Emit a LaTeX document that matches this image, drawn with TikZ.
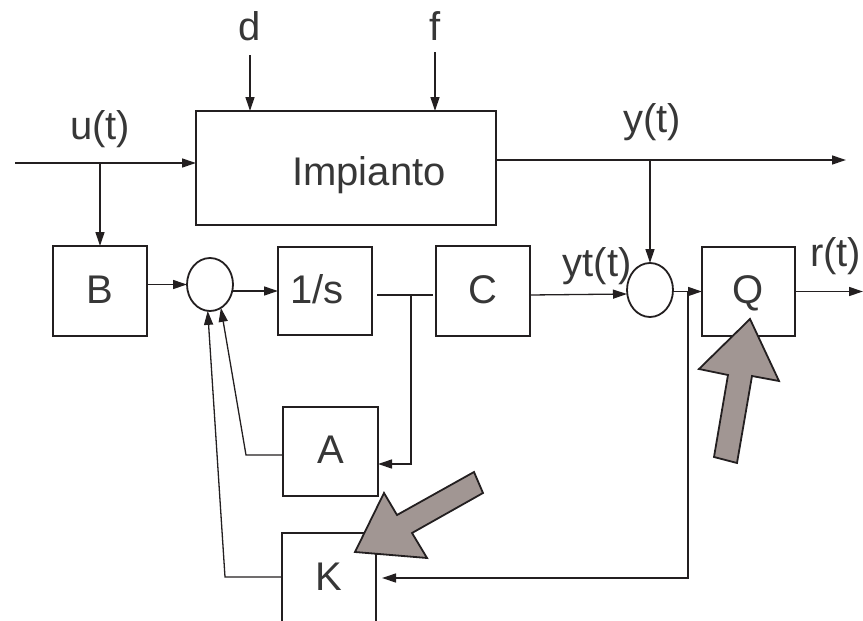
\documentclass[tikz,border=0pt]{standalone}
\usepackage{fontspec}
\setmainfont{Liberation Sans}
\usetikzlibrary{arrows.meta,shapes.geometric}
\definecolor{ln}{RGB}{35,31,32}
\definecolor{tx}{RGB}{55,55,55}
\definecolor{bigarrow}{RGB}{161,150,147}
\begin{document}
\begin{tikzpicture}[x=1pt,y=-1pt,
  every node/.style={font=\fontsize{40}{48}\selectfont, text=tx},
  blk/.style={draw=ln, line width=1.8pt, rectangle, inner sep=0pt, outer sep=0pt, text height=24pt, text depth=0pt},
  sumnode/.style={draw=ln, line width=1.8pt, ellipse, minimum width=46pt, minimum height=53pt, inner sep=0pt, outer sep=0pt},
  conn/.style={draw=ln, line width=1.3pt},
  arr/.style={conn, -{Triangle[length=14pt,width=9pt]}},
  lbl/.style={anchor=base, inner sep=0pt},
  fatarrow/.style={fill=bigarrow, draw=ln, line width=1.8pt, line join=miter}
]
\useasboundingbox (0,0) rectangle (863,621);
\clip (0,0) rectangle (863,621);

% blocks
\node[blk, minimum width=300pt, minimum height=114pt] (imp) at (346,168) {};
\node[lbl] (impt) at (369,185) {Impianto};
\node[blk, minimum width=94pt, minimum height=90pt] (B) at (100,291) {B};
\node[sumnode] (sum1) at (210,284.5) {};
\node[blk, minimum width=94pt, minimum height=88pt] (s1) at (325,291) {1/s\hspace*{16pt}};
\node[blk, minimum width=94pt, minimum height=90pt] (C) at (483,291) {C};
\node[sumnode, minimum height=54pt] (sum2) at (650,290) {};
\node[blk, minimum width=93pt, minimum height=89pt] (Q) at (748.5,291.5) {Q};
\node[blk, minimum width=95pt, minimum height=89pt] (A) at (330.5,451.5) {A};
\node[blk, minimum width=94pt, minimum height=90pt] (K) at (329,578) {K};

% labels
\node[lbl] (dl) at (250,40) {d};
\node[lbl] (fl) at (435,40) {f};
\node[lbl] (ul) at (100,139) {u(t)};
\node[lbl] (yl) at (652,132) {y(t)};
\node[lbl] (ytl) at (597,276) {yt(t)};
\node[lbl, anchor=base west] (rl) at (810,266) {r(t)};

% coordinates
\coordinate (uin) at (15,163);
\coordinate (ub) at (100,163);
\coordinate (din) at (250,55);
\coordinate (fin) at (435,52);
\coordinate (yout) at (846,160);
\coordinate (yb) at (650,160);
\coordinate (jn) at (411,295);
\coordinate (ka) at (225,577);
\coordinate (aa) at (246,455);
\coordinate (jq) at (688,291.5);
\coordinate (rout) at (863,291.5);

% connectors
\draw[arr] (uin) -- (uin -| imp.west);
\draw[arr] (ub) -- (B.north);
\draw[arr] (din) -- (din |- imp.north);
\draw[arr] (fin) -- (fin |- imp.north);
\draw[arr] (yout -| imp.east) -- (yout);
\draw[arr] (yb) -- (sum2.north);
\draw[arr] (B.east |- sum1.west) -- (sum1.west);
\draw[arr] (s1.west -| sum1.east) -- (s1.west);
\draw[conn, shorten <=5pt, shorten >=3pt] (s1.east |- jn) -- (C.west |- jn);
\draw[arr] (jn) |- ([yshift=-12.5pt]A.east);
\draw[arr] ([yshift=-3.5pt]A.west) -- (aa) -- (sum1.-65);
\draw[arr] (K.west |- ka) -- (ka) -- (sum1.-95);
\draw[arr] ([yshift=-4pt]C.east) -- ([yshift=-4pt]sum2.west);
\draw[arr] (sum2.east |- Q.west) -- (Q.west);
\draw[arr] (jq) |- ([xshift=6pt]K.east);
\draw[arr] (Q.east) -- (rout);

% big gray arrows
\draw[fatarrow] (750,319) -- (779,381) -- (752,376) -- (737,463) -- (714,457) -- (728,375) -- (699,369) -- cycle;
\draw[fatarrow] (355,552) -- (384,493) -- (397,515) -- (474,472) -- (483,493) -- (412,533) -- (427,558) -- cycle;
\end{tikzpicture}
\end{document}
